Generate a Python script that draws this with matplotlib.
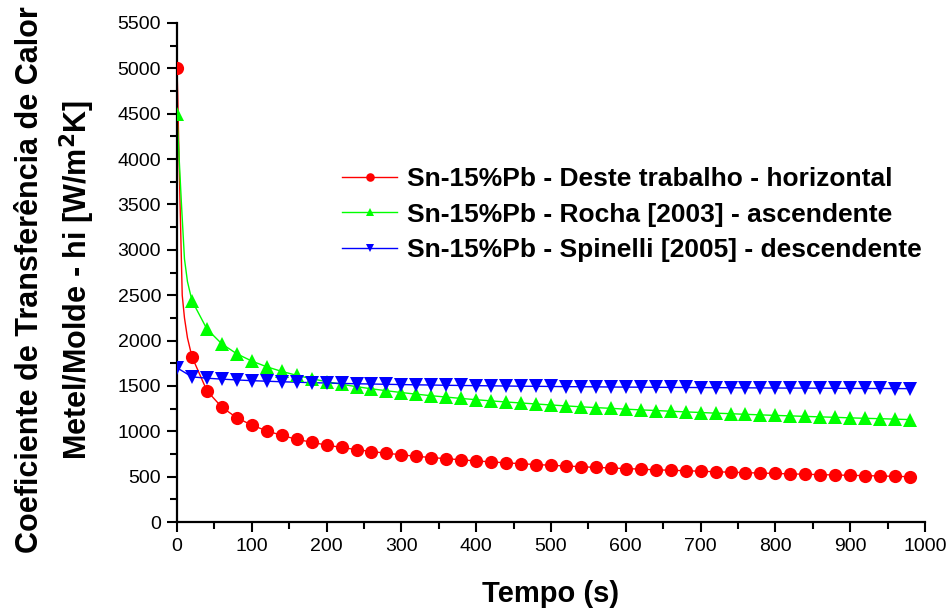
import numpy as np
import matplotlib
matplotlib.use('Agg')
import matplotlib.pyplot as plt

plt.rcParams['font.family'] = ['Liberation Sans', 'DejaVu Sans']

# marker times (s)
t_mark = list(range(0, 1000, 20))

# Sn-15%Pb - Deste trabalho - horizontal
red_hi = [5000, 1822, 1447, 1265, 1149, 1068, 1005, 955, 912, 879,
          848, 822, 798, 777, 758, 741, 724, 711, 698, 686,
          673, 663, 652, 643, 633, 626, 617, 610, 602, 596,
          589, 583, 575, 571, 565, 560, 554, 549, 544, 540,
          535, 531, 526, 523, 518, 515, 511, 508, 503, 500]
# Sn-15%Pb - Rocha [2003] - ascendente
green_hi = [4500, 2440, 2127, 1963, 1854, 1774, 1711, 1660, 1617, 1579,
            1547, 1518, 1492, 1468, 1447, 1427, 1409, 1392, 1377, 1362,
            1348, 1335, 1323, 1312, 1301, 1290, 1280, 1270, 1261, 1253,
            1244, 1236, 1229, 1221, 1214, 1207, 1200, 1194, 1187, 1181,
            1175, 1170, 1164, 1159, 1154, 1148, 1143, 1139, 1134, 1129]
# Sn-15%Pb - Spinelli [2005] - descendente
blue_hi = [1700, 1600, 1585, 1575, 1566, 1558, 1552, 1546, 1541, 1536,
           1532, 1528, 1524, 1521, 1518, 1515, 1512, 1510, 1507, 1505,
           1503, 1501, 1499, 1497, 1496, 1494, 1492, 1491, 1490, 1488,
           1487, 1486, 1485, 1484, 1483, 1482, 1481, 1480, 1479, 1478,
           1477, 1476, 1476, 1475, 1474, 1473, 1472, 1472, 1471, 1470]

# extra points of the fitted curves near t=0
red_t_early = [1, 2, 4, 7, 10, 14]
red_hi_early = [4700, 4300, 3550, 2500, 2250, 2030]
green_t_early = [3, 6, 10, 14]
green_hi_early = [3990, 3500, 2900, 2650]

labels = ['Sn-15%Pb - Deste trabalho - horizontal',
          'Sn-15%Pb - Rocha [2003] - ascendente',
          'Sn-15%Pb - Spinelli [2005] - descendente']


def curve(t_m, hi_m, t_e, hi_e):
    pts = sorted(zip(list(t_m) + list(t_e), list(hi_m) + list(hi_e)))
    return [p[0] for p in pts], [p[1] for p in pts]


fig = plt.figure(figsize=(9.5, 6.08), dpi=100)
ax = fig.add_axes([0.1863, 0.1414, 0.7874, 0.8208])

series = [
    (red_hi, red_t_early, red_hi_early, '#ff0000', 'o'),
    (green_hi, green_t_early, green_hi_early, '#00ff00', '^'),
    (blue_hi, [], [], '#0000ff', 'v'),
]
for (hi, te, he, col, mk), lab in zip(series, labels):
    tx, hx = curve(t_mark, hi, te, he)
    ax.plot(tx, hx, '-', color=col, lw=1.0, zorder=2)
    ax.plot(t_mark, hi, linestyle='none', marker=mk, color=col,
            markersize=9.5, markeredgewidth=0, zorder=3)
    # proxy for legend
    ax.plot([], [], '-', color=col, lw=1.0, marker=mk, markersize=9.5,
            markeredgewidth=0, label=lab)

ax.set_xlim(0, 1000)
ax.set_ylim(0, 5500)
ax.set_xticks(np.arange(0, 1001, 100))
ax.set_xticks(np.arange(0, 1001, 50), minor=True)
ax.set_yticks(np.arange(0, 5501, 500))
ax.set_yticks(np.arange(0, 5501, 250), minor=True)

for s in ['top', 'right']:
    ax.spines[s].set_visible(False)
for s in ['left', 'bottom']:
    ax.spines[s].set_linewidth(1.6)

ax.tick_params(which='major', direction='out', length=7.5, width=1.5,
               labelsize=14, pad=4)
ax.tick_params(which='minor', direction='out', length=5, width=1.5)

ax.set_xlabel('Tempo (s)', fontsize=21, fontweight='bold', labelpad=18)
ax.set_ylabel('Coeficiente de Transferência de Calor\nMetel/Molde - hi [W/m$^\\mathbf{2}$K]',
              fontsize=22, fontweight='bold', labelpad=15, linespacing=1.4)
ax.yaxis.label.set_y(0.485)

ax.legend(loc='upper left', bbox_to_anchor=(0.2206, 0.711), frameon=False,
          prop={'size': 19, 'weight': 'bold'}, handlelength=2.1,
          handletextpad=0.35, labelspacing=0.43, markerscale=0.65,
          borderpad=0, borderaxespad=0)

fig.savefig('out.png', dpi=100)
